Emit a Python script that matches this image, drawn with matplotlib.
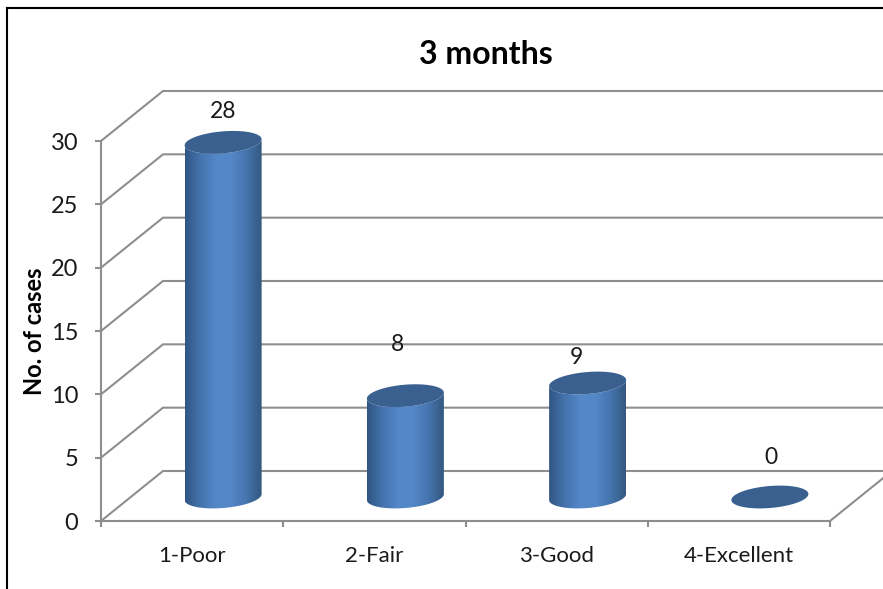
import numpy as np
import matplotlib
matplotlib.use("Agg")
import matplotlib.pyplot as plt
from matplotlib.colors import LinearSegmentedColormap
from matplotlib.patches import Polygon

plt.rcParams["font.family"] = ["Lato", "DejaVu Sans"]

# chart values
categories = ["1-Poor", "2-Fair", "3-Good", "4-Excellent"]
cases = [28, 8, 9, 0]
y_ticks = [0, 5, 10, 15, 20, 25, 30]

W, H = 883, 589
fig = plt.figure(figsize=(W / 100, H / 100), dpi=100, facecolor="white")

# front plane of the 3D box, in pixels from the top left
left, right, top, bottom = 101, 830, 141, 521
ax = fig.add_axes([left / W, 1 - bottom / H, (right - left) / W, (bottom - top) / H])
ax.set_xlim(0, 4)
ax.set_ylim(0, 30)
ax.patch.set_alpha(0)

px_x = 4 / (right - left)
px_y = 30 / (bottom - top)
depth_x = 62 * px_x
depth_y = 50 * px_y
grey = "#8e8e8e"

# floor edge and walls
for v in y_ticks:
    ax.plot([0, depth_x, 4.5], [v, v + depth_y, v + depth_y], color=grey, lw=1.5,
            clip_on=False, zorder=1, solid_joinstyle="miter")
ax.plot([4, 4 + depth_x], [0, depth_y], color=grey, lw=1.5, clip_on=False, zorder=1)

for name in ["top", "right"]:
    ax.spines[name].set_visible(False)
for name in ["left", "bottom"]:
    ax.spines[name].set_color(grey)
    ax.spines[name].set_linewidth(1.5)

ax.set_yticks(y_ticks)
ax.set_xticks(range(5))
ax.set_xticklabels([])
ax.set_xticks([i + 0.5 for i in range(4)], categories, minor=True)
ax.tick_params(axis="both", which="major", color=grey, width=1.5, length=4.5)
ax.tick_params(axis="y", labelsize=17, pad=12, labelcolor="#1a1a1a")
ax.tick_params(axis="x", which="minor", length=0, labelsize=16, pad=18, labelcolor="#1a1a1a")

# cylinders
shade = LinearSegmentedColormap.from_list(
    "cyl", ["#305583", "#4473ad", "#5487c8", "#5588c8", "#4574ae", "#34587f"])
cap_color = "#3a6090"
half_w = 38.5 * px_x
half_h = 11 * px_y
tilt = 3 * px_y
t = np.linspace(0, 2 * np.pi, 121)
lower = np.linspace(np.pi, 2 * np.pi, 61)


def rim(cx, cy, angles):
    return np.column_stack([cx + half_w * np.cos(angles),
                            cy + half_h * np.sin(angles) + tilt * np.cos(angles)])


for i, v in enumerate(cases):
    cx = i + 0.5 + depth_x / 2
    base = 24 * px_y
    y_top = base + v
    if v > 0:
        outline = np.vstack([rim(cx, base, lower),
                             rim(cx, y_top, lower[::-1])])
        body = Polygon(outline, closed=True, transform=ax.transData,
                       facecolor="none", edgecolor="none")
        ax.add_patch(body)
        grad = ax.imshow(np.linspace(0, 1, 256)[None, :], cmap=shade, aspect="auto",
                         extent=[cx - half_w, cx + half_w, base - half_h - tilt, y_top + half_h + tilt],
                         zorder=3, clip_on=True)
        grad.set_clip_path(body)
    ax.add_patch(Polygon(rim(cx, y_top, t), closed=True, facecolor=cap_color,
                         edgecolor="none", zorder=4, clip_on=False))

ax.set_xlim(0, 4)
ax.set_ylim(0, 30)

# value labels sit at uneven heights above the cylinders
nudge_x = [0, -8, -11, 1]
nudge_y = [31, 51, 26, 39]
for i, v in enumerate(cases):
    cx = i + 0.5 + depth_x / 2
    ax.annotate(str(v), (cx, 24 * px_y + v),
                xytext=(nudge_x[i] * 0.72, nudge_y[i] * 0.72), textcoords="offset points",
                ha="center", va="center", fontsize=16.5, color="#1a1a1a",
                annotation_clip=False, zorder=5)

fig.text(486 / W, 1 - 54 / H, "3 months", ha="center", va="center",
         fontsize=23, fontweight="bold", color="black")
fig.text(34 / W, 1 - 331 / H, "No. of cases", rotation=90, ha="center", va="center",
         fontsize=17, fontweight="bold", color="black")

# outer chart frame
fig.add_artist(plt.Line2D([7 / W, 7 / W], [0, 1 - 8 / H], color="black", lw=1.5))
fig.add_artist(plt.Line2D([7 / W, 1], [1 - 8 / H, 1 - 8 / H], color="black", lw=1.5))

fig.savefig("out.png", dpi=100)
